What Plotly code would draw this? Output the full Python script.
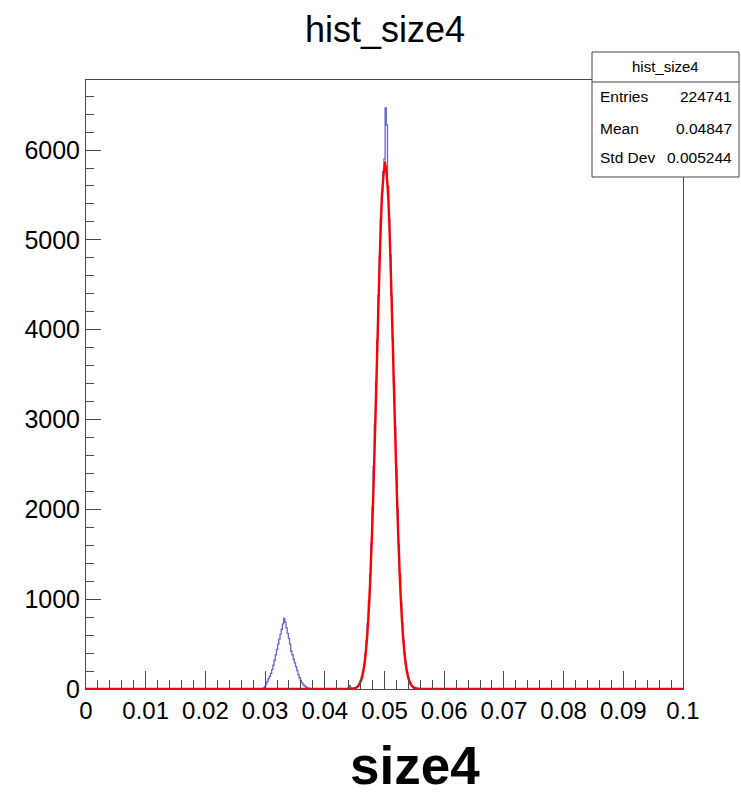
import numpy as np
import plotly.graph_objects as go

# ---------------- data ----------------
bin_width = 0.0002
x_min, x_max = 0.0, 0.1
y_max = 6780

# histogram counts, low peak (starting at 0.0260, step 0.0002)
low_start = 0.0260
low_counts = [0, 4, 2, 0, 0, 1, 0, 0, 0, 2, 0, 0, 1, 0, 0,
              0, 2, 3, 5, 12, 30, 55, 85, 115, 140, 175, 215, 265, 320, 380,
              440, 500, 555, 610, 665, 725, 786, 745, 680, 620, 560, 500, 420,
              380, 330, 290, 250, 205, 160, 125, 95, 70, 50, 38, 25, 15, 10, 6, 3, 1, 0]

# histogram counts, main peak (starting at 0.0440, step 0.0002)
main_start = 0.0440
main_counts = [20, 38, 12, 4, 6, 10, 16, 25, 38, 60, 90, 135, 195, 280, 390,
               540, 730, 980, 1280, 1620, 2030, 2480, 2950, 3420, 3880, 4380,
               4820, 5230, 5540, 5760, 5900, 6470, 6280, 5600, 5230, 4830, 4380,
               3900, 3400, 2920, 2450, 2010, 1610, 1270, 975, 735, 540, 390, 275,
               190, 128, 85, 56, 36, 22, 14, 8, 5, 3, 1]

# fitted curve samples (starting at 0.0441, step 0.0005)
fit_start = 0.0441
fit_step = 0.0005
fit_values = [1, 3, 10, 33, 99, 258, 591, 1192, 2116, 3307, 4549, 5507, 5870,
              5507, 4549, 3307, 2116, 1192, 591, 258, 99, 33, 10, 3, 1]

hist_title = "hist_size4"
x_title = "size4"
stats_labels = ["Entries", "Mean", "Std Dev"]
stats_values = ["224741", "0.04847", "0.005244"]

# ---------------- build arrays ----------------
n_bins = int(round((x_max - x_min) / bin_width)) + 1
hist_x = np.round(x_min + bin_width * np.arange(n_bins), 6)
hist_y = np.zeros(n_bins)
i0 = int(round((low_start - x_min) / bin_width))
hist_y[i0:i0 + len(low_counts)] = low_counts
i1 = int(round((main_start - x_min) / bin_width))
hist_y[i1:i1 + len(main_counts)] = main_counts

fit_x = [x_min] + list(np.round(fit_start + fit_step * np.arange(len(fit_values)), 6)) + [x_max]
fit_y = [0] + fit_values + [0]

FONT = "Liberation Sans, Arial, Helvetica, sans-serif"
AX = "#4a4a4a"

fig = go.Figure()
fig.add_trace(go.Scatter(x=hist_x, y=hist_y, mode="lines",
                         line=dict(color="rgba(50,50,200,0.75)", width=1.3, shape="hvh"),
                         hoverinfo="skip", showlegend=False))
fig.add_trace(go.Scatter(x=fit_x, y=fit_y, mode="lines",
                         line=dict(color="#ff0000", width=2.4, shape="spline", smoothing=0.8),
                         hoverinfo="skip", showlegend=False))

# plot area geometry in pixels
L, R, T, B = 86, 58, 80, 105
W, H = 741, 794
pw, ph = W - L - R, H - T - B


def px2x(px):
    return (px - L) / pw


def py2y(py):
    return (H - B - py) / ph


fig.update_layout(
    width=W, height=H,
    margin=dict(l=L, r=R, t=T, b=B),
    paper_bgcolor="white", plot_bgcolor="white",
    font=dict(family=FONT, color="black"),
    title=dict(text=hist_title, x=385 / W, xanchor="center", xref="container",
               y=1 - 29 / H, yanchor="middle", yref="container",
               font=dict(size=36, family=FONT, color="black")),
    xaxis=dict(range=[x_min, x_max], tick0=0, dtick=0.01, ticks="inside", ticklen=18,
               tickcolor=AX, tickwidth=1, showline=True, linecolor=AX, linewidth=1,
               mirror=True, showgrid=False, zeroline=False,
               tickfont=dict(size=24, family=FONT, color="black"),
               minor=dict(dtick=0.002, tick0=0, ticks="inside", ticklen=9, tickcolor=AX,
                          showgrid=False)),
    yaxis=dict(range=[0, y_max], tick0=0, dtick=1000, ticks="inside", ticklen=15,
               tickcolor=AX, tickwidth=1, showline=True, linecolor=AX, linewidth=1,
               mirror=True, showgrid=False, zeroline=False,
               tickfont=dict(size=25, family=FONT, color="black"),
               minor=dict(dtick=200, tick0=0, ticks="inside", ticklen=8, tickcolor=AX,
                          showgrid=False)),
)

# x axis title
fig.add_annotation(text="<b>" + x_title + "</b>", x=px2x(415), y=py2y(765),
                   xref="paper", yref="paper", showarrow=False,
                   xanchor="center", yanchor="middle",
                   font=dict(size=53, family=FONT, color="black"))

# stats box
bx0, bx1, by0, by1, bsep = 592, 739, 52, 177, 82
fig.add_shape(type="rect", xref="paper", yref="paper",
              x0=px2x(bx0), x1=px2x(bx1), y0=py2y(by1), y1=py2y(by0),
              line=dict(color="#444444", width=1), fillcolor="white", layer="above")
fig.add_shape(type="line", xref="paper", yref="paper",
              x0=px2x(bx0), x1=px2x(bx1), y0=py2y(bsep), y1=py2y(bsep),
              line=dict(color="#444444", width=1), layer="above")
fig.add_annotation(text=hist_title, x=px2x((bx0 + bx1) / 2), y=py2y(67),
                   xref="paper", yref="paper", showarrow=False,
                   xanchor="center", yanchor="middle",
                   font=dict(size=15, family=FONT, color="black"))
row_y = [97, 128, 158]
for lab, val, ry in zip(stats_labels, stats_values, row_y):
    fig.add_annotation(text=lab, x=px2x(598), y=py2y(ry), xref="paper", yref="paper",
                       showarrow=False, xanchor="left", yanchor="middle",
                       font=dict(size=15.5, family=FONT, color="black"))
    fig.add_annotation(text=val, x=px2x(734), y=py2y(ry), xref="paper", yref="paper",
                       showarrow=False, xanchor="right", yanchor="middle",
                       font=dict(size=15.5, family=FONT, color="black"))

fig.write_html("out.html", config={"displayModeBar": False},
               post_script="document.body.style.margin='0';document.body.style.overflow='hidden';")
